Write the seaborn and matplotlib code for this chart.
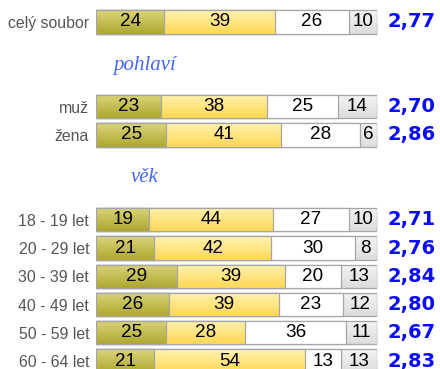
import numpy as np
import pandas as pd
import seaborn as sns
import matplotlib.pyplot as plt
from matplotlib.colors import LinearSegmentedColormap

# Survey answers, percentages per group (four answer categories)
groups = ["celý soubor", "muž", "žena",
          "18 - 19 let", "20 - 29 let", "30 - 39 let",
          "40 - 49 let", "50 - 59 let", "60 - 64 let"]
ans1 = [24, 23, 25, 19, 21, 29, 26, 25, 21]
ans2 = [39, 38, 41, 44, 42, 39, 39, 28, 54]
ans3 = [26, 25, 28, 27, 30, 20, 23, 36, 13]
ans4 = [10, 14, 6, 10, 8, 13, 12, 11, 13]
means = [2.77, 2.70, 2.86, 2.71, 2.76, 2.84, 2.80, 2.67, 2.83]
sections = ["pohlaví", "věk"]

# Row layout: blank slots leave room for the section headings
order = ["celý soubor", " ", "  ",
         "muž", "žena", "   ", "    ",
         "18 - 19 let", "20 - 29 let", "30 - 39 let",
         "40 - 49 let", "50 - 59 let", "60 - 64 let"]
heading_slots = [1.55, 5.5]

df = pd.DataFrame({"group": groups, "a1": ans1, "a2": ans2, "a3": ans3, "a4": ans4})
total = df[["a1", "a2", "a3", "a4"]].sum(axis=1)
shares = df[["a1", "a2", "a3", "a4"]].div(total, axis=0) * 100
cum = shares.cumsum(axis=1)
for k in range(4):
    df[f"c{k + 1}"] = cum.iloc[:, k]

sns.set_theme(style="white")
plt.rcParams["font.family"] = ["Liberation Sans", "DejaVu Sans"]

fig = plt.figure(figsize=(4.4, 3.69), dpi=100)
ax = fig.add_axes([96 / 440, -0.0166, 281 / 440, 0.99526])

# vertical gradients (top colour, bottom colour) for each answer category
fills = [("#dad57c", "#aea72e"),
         ("#fff2b0", "#ffd954"),
         ("#ffffff", "#ffffff"),
         ("#f4f4f4", "#dcdcdc")]
edge = "#a6a6a6"
grad = np.linspace(0, 1, 64).reshape(-1, 1)

# stacked bars: draw the cumulative totals from the right-most segment down
for layer, k in enumerate([4, 3, 2, 1]):
    before = len(ax.patches)
    sns.barplot(data=df, y="group", x=f"c{k}", order=order, orient="y",
                width=0.82, color=fills[k - 1][1], edgecolor=edge,
                linewidth=0.9, errorbar=None, ax=ax)
    cmap = LinearSegmentedColormap.from_list(f"g{k}", list(fills[k - 1]))
    z = 10 + 3 * layer
    for p in ax.patches[before:]:
        if not np.isfinite(p.get_width()) or p.get_width() == 0:
            continue
        x0, y0, w, h = p.get_x(), p.get_y(), p.get_width(), p.get_height()
        im = ax.imshow(grad, extent=(x0, x0 + w, y0 + h, y0), origin="upper",
                       aspect="auto", cmap=cmap, zorder=z + 1,
                       interpolation="bilinear")
        im.set_clip_path(p)
        p.set_facecolor("none")
        p.set_zorder(z + 2)

# values inside each segment and the mean to the right
ypos = {g: order.index(g) for g in groups}
for i, g in df.iterrows():
    y = ypos[g["group"]]
    left = 0.0
    for k in range(1, 5):
        right = g[f"c{k}"]
        ax.text((left + right) / 2, y, f"{g[f'a{k}']}", ha="center", va="center",
                fontsize=13.6, color="black", zorder=30)
        left = right
    ax.text(103.9, y, f"{means[i]:.2f}".replace(".", ","), ha="left", va="center",
            fontsize=14, fontweight="bold", color="#0a0aff",
            family="DejaVu Sans", clip_on=False, zorder=30)

for name, slot in zip(sections, heading_slots):
    ax.text(17.4, slot, name, ha="center", va="center", fontsize=15,
            style="italic", family="Liberation Serif", color="#4466ff")

ax.set_xlim(0, 100)
ax.set_ylim(len(order) - 0.5, -0.5)
ax.set_yticks(range(len(order)), labels=order)
ax.tick_params(axis="y", length=0, pad=5, labelsize=11.4, labelcolor="#555555")
ax.set_xticks([])
ax.set_xlabel("")
ax.set_ylabel("")
sns.despine(ax=ax, left=True, bottom=True)

fig.savefig("out.png", dpi=100)
